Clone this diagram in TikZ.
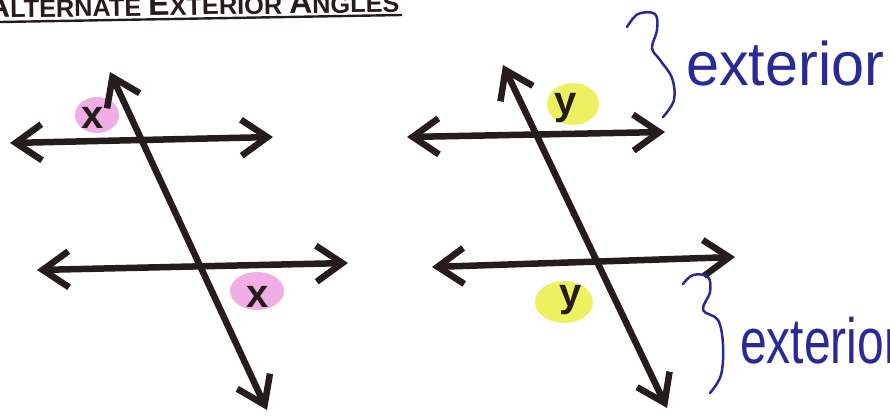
\documentclass[tikz,border=0pt]{standalone}
\usepackage{fontspec}
\setmainfont{Liberation Sans}
\usetikzlibrary{arrows.meta}
\definecolor{ink}{RGB}{42,42,150}
\definecolor{pen}{RGB}{38,28,28}
\definecolor{pinkhl}{RGB}{238,160,225}
\definecolor{yellowhl}{RGB}{234,238,80}
\begin{document}
\begin{tikzpicture}[x=1pt,y=-1pt,
  geoline/.style={pen,line width=6.5pt,
    {Straight Barb[length=26pt,width=36pt]}-{Straight Barb[length=26pt,width=36pt]}},
  pinkblob/.style={fill=pinkhl,draw=none,opacity=0.85},
  yellowblob/.style={fill=yellowhl,draw=none,opacity=0.9},
  anglabel/.style={text=pen,font=\bfseries\fontsize{40}{40}\selectfont,inner sep=0pt},
  bracestroke/.style={ink,line width=2.5pt,line cap=round,line join=round},
  handtext/.style={text=ink,inner sep=0pt,anchor=base west}]
\useasboundingbox (0,0) rectangle (890,415);
% title
\node[anchor=base west,inner sep=0pt,text=pen,rotate=0.8] (title) at (-13,18)
  {\bfseries{\fontsize{32}{32}\selectfont A}{\fontsize{25.3}{25.3}\selectfont LTERNATE }{\fontsize{32}{32}\selectfont E}{\fontsize{25.3}{25.3}\selectfont XTERIOR }{\fontsize{32}{32}\selectfont A}{\fontsize{25.3}{25.3}\selectfont NGLES}};
\coordinate (ulA) at (0,22);
\coordinate (ulB) at (402,15);
\draw[pen,line width=2.4pt] (ulA) -- (ulB);
% highlights
\fill[pinkblob] (97,115) ellipse [x radius=22,y radius=18];
\fill[pinkblob] (257,291) ellipse [x radius=27,y radius=19];
\fill[yellowblob] (573,104) ellipse [x radius=26,y radius=21];
\fill[yellowblob] (564,302) ellipse [x radius=29,y radius=21];
% left figure
\coordinate (t1a) at (110,72);
\coordinate (t1b) at (267,410);
\coordinate (h1a) at (10,143);
\coordinate (h1b) at (273,137);
\coordinate (h2a) at (37,270);
\coordinate (h2b) at (348,263);
\draw[geoline] (h1a) -- (h1b);
\draw[geoline] (h2a) -- (h2b);
\draw[geoline] (t1a) -- (t1b);
\node[anglabel] (x1) at (93,118) {x};
\node[anglabel] (x2) at (258,297) {x};
% right figure
\coordinate (t2a) at (503,65);
\coordinate (t2b) at (667,408);
\coordinate (h3a) at (407,137);
\coordinate (h3b) at (665,132);
\coordinate (h4a) at (432,267);
\coordinate (h4b) at (735,257);
\draw[geoline] (h3a) -- (h3b);
\draw[geoline] (h4a) -- (h4b);
\draw[geoline] (t2a) -- (t2b);
\node[anglabel] (y1) at (566,108) {y};
\node[anglabel] (y2) at (571,300) {y};
% handwritten notes
\draw[bracestroke] plot[smooth,tension=0.6] coordinates {(627,27) (638,14) (655,14) (657,30) (652,48) (660,60) (672,78) (674,100) (663,117)};
\node[handtext] (ext1) at (686,85) {\scalebox{1.06}[1.1]{\fontsize{56}{56}\selectfont exterior}};
\draw[bracestroke] plot[smooth,tension=0.6] coordinates {(683,284) (693,275) (708,277) (710,292) (703,310) (718,320) (723,345) (721,375) (710,393)};
\node[handtext] (ext2) at (740,363) {\scalebox{0.75}[1]{\fontsize{64}{64}\selectfont exterior}};
\end{tikzpicture}
\end{document}
